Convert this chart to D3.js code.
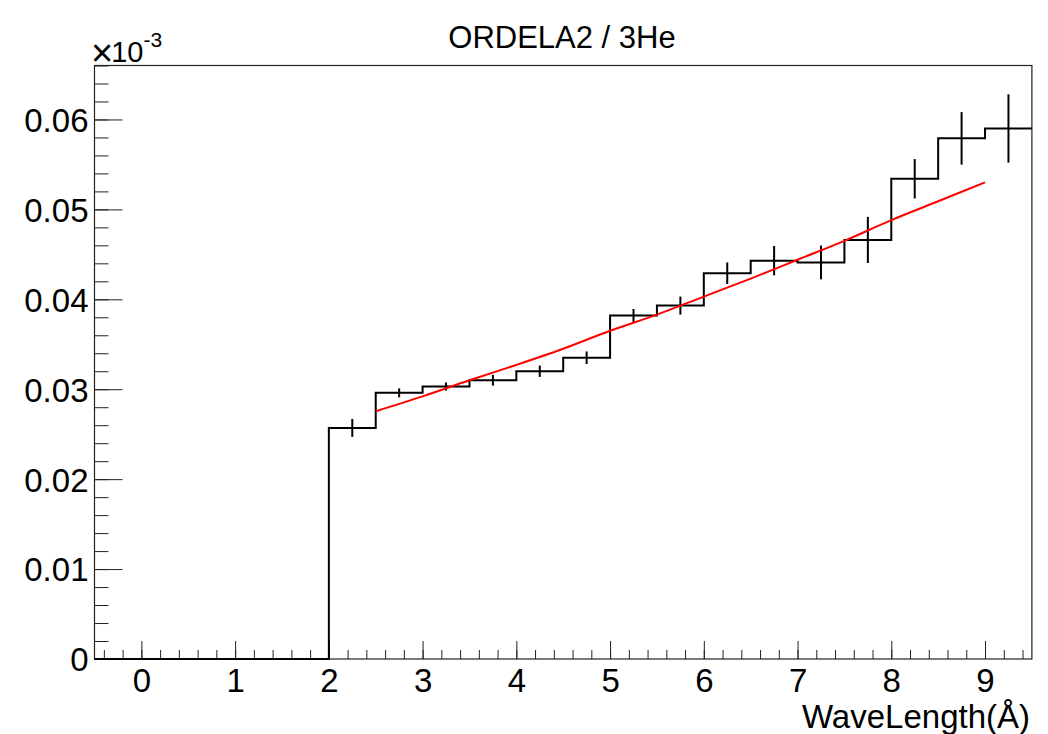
<!DOCTYPE html>
<html>
<head>
<meta charset="utf-8">
<script src="https://cdn.jsdelivr.net/npm/d3@7"></script>
<style>
  body { margin: 0; background: #fff; }
  svg { display: block; font-family: "Liberation Sans", Arial, sans-serif; }
</style>
</head>
<body>
<svg width="1048" height="734"></svg>
<script>
// histogram bins (lower edges), bin width 0.5, values shown in units of 1e-3
var binLow = [2, 2.5, 3, 3.5, 4, 4.5, 5, 5.5, 6, 6.5, 7, 7.5, 8, 8.5, 9];
var binVal = [0.0257, 0.0296, 0.0303, 0.0310, 0.0320, 0.0335, 0.0382, 0.0393, 0.0429, 0.0443, 0.0441, 0.0466, 0.0534, 0.0579, 0.0590];
var binErr = [0.0010, 0.0005, 0.00045, 0.0006, 0.00063, 0.0007, 0.00072, 0.0010, 0.0012, 0.00163, 0.00188, 0.00256, 0.00219, 0.00292, 0.0038];
var binW = 0.5;

// red fit curve
var fitX = [2.5, 3, 3.5, 4, 4.5, 5, 5.5, 6, 6.5, 7, 7.5, 8, 8.5, 9];
var fitY = [0.02755, 0.0292, 0.0310, 0.0327, 0.0345, 0.0365, 0.0383, 0.0403, 0.0423, 0.0444, 0.0465, 0.0488, 0.0509, 0.0530];

var xMajor = [0, 1, 2, 3, 4, 5, 6, 7, 8, 9];
var yMajor = [0, 0.01, 0.02, 0.03, 0.04, 0.05, 0.06];

const svg = d3.select('svg');
const padL = 94.5, padR = 1031.9, padT = 65.5, padB = 659;

const x = d3.scaleLinear().domain([-0.5, 9.5]).range([padL, padR]);
const y = d3.scaleLinear().domain([0, 0.066]).range([padB, padT]);

// minor ticks
var xMinor = d3.range(-0.4, 9.5, 0.2).map(v => +v.toFixed(1));
var yMinor = d3.range(0, 0.0661, 0.002).map(v => +v.toFixed(3));

svg.append('g')
    .attr('transform', `translate(0,${padB})`)
    .call(d3.axisBottom(x).tickValues(xMinor).tickSizeInner(-9).tickSizeOuter(0).tickFormat(''))
    .call(g => g.select('.domain').remove());

svg.append('g')
    .attr('transform', `translate(${padL},0)`)
    .call(d3.axisLeft(y).tickValues(yMinor).tickSizeInner(-14).tickSizeOuter(0).tickFormat(''))
    .call(g => g.select('.domain').remove());

// major ticks + labels
const xAxis = svg.append('g')
    .attr('transform', `translate(0,${padB})`)
    .call(d3.axisBottom(x).tickValues(xMajor).tickSizeInner(-18).tickSizeOuter(0).tickPadding(10).tickFormat(d3.format('d')))
    .call(g => g.select('.domain').remove());
xAxis.selectAll('text')
    .attr('font-size', '33px')
    .attr('fill', '#000')
    .attr('dy', null)
    .attr('y', 33);

const yAxis = svg.append('g')
    .attr('transform', `translate(${padL},0)`)
    .call(d3.axisLeft(y).tickValues(yMajor).tickSizeInner(-28).tickSizeOuter(0).tickPadding(6)
        .tickFormat(d => d === 0 ? '0' : d3.format('.2f')(d)))
    .call(g => g.select('.domain').remove());
yAxis.selectAll('text')
    .attr('font-size', '33px')
    .attr('fill', '#000')
    .attr('dy', '0.36em');

svg.selectAll('.tick line').attr('stroke', '#222').attr('stroke-width', 1);

// frame
svg.append('rect')
    .attr('x', padL).attr('y', padT)
    .attr('width', padR - padL).attr('height', padB - padT)
    .attr('fill', 'none')
    .attr('stroke', '#222')
    .attr('stroke-width', 1.2);

// histogram outline
var pts = [[-0.5, 0], [binLow[0], 0]];
binLow.forEach((b, i) => {
    pts.push([b, binVal[i]]);
    pts.push([b + binW, binVal[i]]);
});
svg.append('path')
    .attr('d', d3.line().x(d => x(d[0])).y(d => y(d[1]))(pts))
    .attr('fill', 'none')
    .attr('stroke', '#000')
    .attr('stroke-width', 2);

// error bars
svg.append('g').selectAll('line')
    .data(binLow)
    .join('line')
    .attr('x1', (d) => x(d + binW / 2))
    .attr('x2', (d) => x(d + binW / 2))
    .attr('y1', (d, i) => y(binVal[i] - binErr[i]))
    .attr('y2', (d, i) => y(binVal[i] + binErr[i]))
    .attr('stroke', '#000')
    .attr('stroke-width', 2);

// fit
svg.append('path')
    .attr('d', d3.line().x((d, i) => x(d)).y((d, i) => y(fitY[i])).curve(d3.curveMonotoneX)(fitX))
    .attr('fill', 'none')
    .attr('stroke', '#ff0000')
    .attr('stroke-width', 2);

// title
svg.append('text')
    .attr('x', 562)
    .attr('y', 48)
    .attr('text-anchor', 'middle')
    .attr('font-size', '31px')
    .text('ORDELA2 / 3He');

// exponent
const ex = svg.append('text')
    .attr('x', 91)
    .attr('y', 62);
ex.append('tspan').attr('font-size', '38px').attr('dy', 4).text('\u00d7');
ex.append('tspan').attr('font-size', '29px').attr('dy', -4).attr('dx', -2).text('10');
ex.append('tspan').attr('font-size', '21px').attr('dy', -15).text('-3');

// x title
svg.append('text')
    .attr('x', 1030)
    .attr('y', 728)
    .attr('text-anchor', 'end')
    .attr('font-size', '33px')
    .text('WaveLength(\u00c5)');
</script>
</body>
</html>
